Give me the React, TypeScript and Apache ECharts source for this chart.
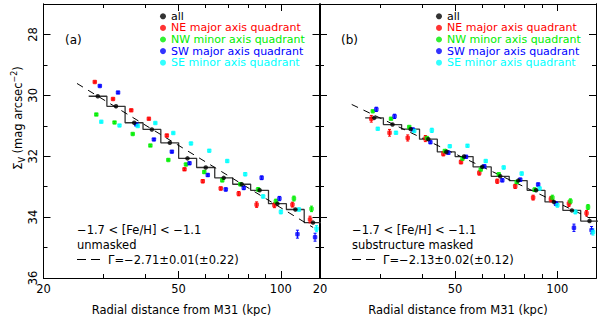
import { useEffect, useRef } from 'react';
import * as echarts from 'echarts';

// ---- data ----
const radii = [28.9, 32.7, 37.0, 41.7, 47.1, 53.1, 60.1, 67.9, 76.7, 86.6, 97.7, 110.4, 124.4];

const allA = [30.03, 30.36, 30.90, 31.12, 31.56, 32.07, 32.37, 32.71, 32.92, 33.12, 33.56, 33.75, 34.18];
const neA = [29.56, 30.12, 30.49, 30.77, 31.32, 32.43, 32.82, 33.06, 33.23, 33.59, 33.61, 33.59, 34.08];
const nwA = [30.63, 30.89, 31.27, 31.65, 32.12, 32.27, 32.52, 32.79, 32.92, 33.09, 33.48, 33.39, 33.73];
const swA = [29.69, 29.91, 30.96, 31.45, 31.85, 32.23, 32.62, 33.09, 33.04, 32.71, 33.39, 34.56, 34.66];
const seA = [30.87, 30.99, 31.01, 30.91, 31.24, 31.58, 31.82, 32.16, 32.59, 33.32, 33.83, 33.75, 34.38];
const neErrA = [0.03, 0.03, 0.03, 0.03, 0.04, 0.04, 0.05, 0.05, 0.07, 0.09, 0.08, 0.08, 0.11];
const nwErrA = [0.03, 0.03, 0.03, 0.03, 0.03, 0.04, 0.04, 0.05, 0.05, 0.06, 0.07, 0.08, 0.09];
const swErrA = [0.03, 0.03, 0.03, 0.03, 0.03, 0.04, 0.04, 0.05, 0.05, 0.06, 0.07, 0.13, 0.13];
const seErrA = [0.03, 0.03, 0.03, 0.03, 0.03, 0.04, 0.04, 0.04, 0.05, 0.05, 0.06, 0.05, 0.10];

const allB = [30.74, 30.96, 31.11, 31.44, 31.86, 32.01, 32.35, 32.66, 32.80, 33.12, 33.50, 33.78, 34.13];
const neB = [30.77, 31.23, 31.40, 31.42, 31.92, 32.19, 32.55, 32.82, 32.99, 33.36, 33.41, 33.56, 33.87];
const nwB = [30.52, 30.77, 31.04, 31.40, 31.83, 32.08, 32.44, 32.59, 32.85, 33.10, 33.36, 33.48, 33.67];
const swB = [30.46, 30.69, 31.12, 31.54, 31.89, 32.02, 32.33, 32.79, 32.77, 32.93, 33.56, 34.35, 34.43];
const seB = [31.10, 31.23, 31.17, 31.15, 31.67, 31.66, 32.16, 32.37, 32.57, 33.06, 33.61, 33.83, 34.49];
const neErrB = [0.11, 0.11, 0.10, 0.10, 0.07, 0.06, 0.07, 0.07, 0.07, 0.08, 0.09, 0.09, 0.09];
const nwErrB = [0.03, 0.03, 0.03, 0.03, 0.04, 0.04, 0.04, 0.04, 0.05, 0.06, 0.08, 0.08, 0.08];
const swErrB = [0.07, 0.07, 0.04, 0.04, 0.04, 0.04, 0.04, 0.05, 0.05, 0.05, 0.06, 0.12, 0.12];
const seErrB = [0.04, 0.04, 0.04, 0.07, 0.04, 0.04, 0.04, 0.05, 0.05, 0.05, 0.06, 0.06, 0.10];

// power-law fits: [radius, mag] end points
const fitA = [[25.1, 29.61], [124.5, 34.34]];
const fitB = [[24.8, 30.30], [124.5, 34.03]];

const xMajorTicks = [20, 50, 100];
const xMinorTicks = [30, 40, 60, 70, 80, 90];
const yMajorTicks = [28, 30, 32, 34, 36];
const yMinorTicks = [27, 29, 31, 33, 35];

const quadNames = ['NE major axis quadrant', 'NW minor axis quadrant', 'SW major axis quadrant', 'SE minor axis quadrant'];
const allName = 'all';

// ---- styles ----
const FONT = '"DejaVu Sans", sans-serif';
const quadColors = ['#ff0000', '#00ee00', '#0000ff', '#00ffff'];
const dodge = [0.98, 0.99, 1.014, 1.024];

function stepData(ys: number[]) {
  const out: number[][] = [];
  const n = radii.length;
  for (let i = 0; i < n; i++) {
    const lo = i === 0 ? radii[0] * Math.sqrt(radii[0] / radii[1]) : Math.sqrt(radii[i - 1] * radii[i]);
    const hi = i === n - 1 ? radii[i] * Math.sqrt(radii[i] / radii[i - 1]) : Math.sqrt(radii[i] * radii[i + 1]);
    out.push([lo, ys[i]], [hi, ys[i]]);
  }
  return out;
}

function errSeries(g: number, name: string, color: string, xs: number[], ys: number[], es: number[]) {
  return {
    type: 'custom',
    name: name + ' err',
    xAxisIndex: g * 4,
    yAxisIndex: g * 4,
    z: 3,
    encode: { x: 0, y: 1 },
    data: xs.map((x, i) => [x, ys[i], es[i]]),
    renderItem: (_p: any, api: any) => {
      const x = api.value(0), y = api.value(1), e = api.value(2);
      const a = api.coord([x, y - e]);
      const b = api.coord([x, y + e]);
      const c = 1.5;
      const st = { stroke: color, lineWidth: 1 };
      return {
        type: 'group',
        children: [
          { type: 'line', shape: { x1: a[0], y1: a[1], x2: b[0], y2: b[1] }, style: st },
          { type: 'line', shape: { x1: a[0] - c, y1: a[1], x2: a[0] + c, y2: a[1] }, style: st },
          { type: 'line', shape: { x1: b[0] - c, y1: b[1], x2: b[0] + c, y2: b[1] }, style: st },
        ],
      };
    },
  };
}

function panelSeries(g: number, all: number[], quads: number[][], errs: number[][], fit: number[][]) {
  const xi = g * 4;
  const s: any[] = [];
  s.push({
    type: 'line', name: 'step' + g, xAxisIndex: xi, yAxisIndex: xi, data: stepData(all),
    showSymbol: false, symbol: 'none', z: 2, clip: true,
    lineStyle: { color: '#333', width: 1.3 },
  });
  s.push({
    type: 'line', name: 'fit' + g, xAxisIndex: xi, yAxisIndex: xi, data: fit,
    showSymbol: false, symbol: 'none', z: 2,
    lineStyle: { color: '#000', width: 1, type: [7, 6] },
  });
  quads.forEach((ys, q) => {
    const xs = radii.map((r) => r * dodge[q]);
    s.push(errSeries(g, quadNames[q], quadColors[q], xs, ys, errs[q]));
    s.push({
      type: 'scatter', name: quadNames[q], xAxisIndex: xi, yAxisIndex: xi, z: 4,
      symbol: 'roundRect', symbolSize: 4.5,
      itemStyle: { color: quadColors[q] },
      data: xs.map((x, i) => [x, ys[i]]),
    });
  });
  s.push({
    type: 'scatter', name: allName, xAxisIndex: xi, yAxisIndex: xi, z: 5,
    symbol: 'circle', symbolSize: 4.5, itemStyle: { color: '#000' },
    data: radii.map((r, i) => [r, all[i]]),
  });
  return s;
}

function axesFor(g: number) {
  const line = { show: true, onZero: false, lineStyle: { color: '#000', width: 1 } };
  const tick = (vals: number[], len: number) => ({ show: true, inside: true, length: len, customValues: vals, lineStyle: { color: '#000', width: 1 } });
  const xBase = { type: 'log', logBase: 10, gridIndex: g, min: 20, max: 130, splitLine: { show: false }, axisLine: line };
  const xAxes = [
    {
      ...xBase, position: 'bottom', axisTick: tick(xMajorTicks, 7),
      axisLabel: { show: true, customValues: xMajorTicks, color: '#000', fontSize: 11.5, fontFamily: FONT, margin: 5 },
      name: 'Radial distance from M31 (kpc)', nameLocation: 'middle', nameGap: 26,
      nameTextStyle: { color: '#000', fontSize: 11.5, fontFamily: FONT },
    },
    { ...xBase, position: 'bottom', axisTick: tick(xMinorTicks, 4), axisLabel: { show: false } },
    { ...xBase, position: 'top', axisTick: tick(xMajorTicks, 7), axisLabel: { show: false } },
    { ...xBase, position: 'top', axisTick: tick(xMinorTicks, 4), axisLabel: { show: false } },
  ];
  const yBase = { type: 'value', gridIndex: g, min: 27, max: 36, inverse: true, splitLine: { show: false }, axisLine: line };
  const yAxes = [
    {
      ...yBase, position: 'left', axisTick: tick(yMajorTicks, 7),
      axisLabel: g === 0
        ? { show: true, customValues: yMajorTicks, rotate: 90, color: '#000', fontSize: 11.5, fontFamily: FONT, margin: 5 }
        : { show: false },
    },
    { ...yBase, position: 'left', axisTick: tick(yMinorTicks, 4), axisLabel: { show: false } },
    { ...yBase, position: 'right', axisTick: tick(yMajorTicks, 7), axisLabel: { show: false } },
    { ...yBase, position: 'right', axisTick: tick(yMinorTicks, 4), axisLabel: { show: false } },
  ];
  return { xAxes, yAxes };
}

function legendFor(left: number) {
  return {
    orient: 'vertical', left, top: 10.5, padding: 0, itemWidth: 6, itemHeight: 6, itemGap: 0, itemTextGap: 13,
    icon: 'circle', selectedMode: false,
    textStyle: { fontSize: 11, fontFamily: FONT, lineHeight: 11.6 },
    data: [
      { name: allName, textStyle: { color: '#000' } },
      ...quadNames.map((n, i) => ({ name: n, textStyle: { color: quadColors[i] } })),
    ],
  };
}

function annot(left: number, l1: string, l2: string, l3: string) {
  const ts = (text: string, x: number, y: number) => ({
    type: 'text', x, y,
    style: { text, fill: '#000', font: `11.5px ${FONT}`, align: 'left', verticalAlign: 'middle' },
  });
  const dash = (x1: number) => ({
    type: 'line', shape: { x1, y1: 259.5, x2: x1 + 9, y2: 259.5 }, style: { stroke: '#000', lineWidth: 1 },
  });
  return [ts(l1, left, 230), ts(l2, left, 244.5), dash(left), dash(left + 14), ts(l3, left + 31, 259.5)];
}

function buildOption() {
  const a = axesFor(0);
  const b = axesFor(1);
  return {
    animation: false,
    backgroundColor: '#fff',
    grid: [
      { left: 43.5, top: 4, width: 276, height: 274, outerBoundsMode: 'none', containLabel: false },
      { left: 320, top: 4, width: 276, height: 274, outerBoundsMode: 'none', containLabel: false },
    ],
    xAxis: [...a.xAxes, ...b.xAxes],
    yAxis: [...a.yAxes, ...b.yAxes],
    legend: [legendFor(160), legendFor(436)],
    series: [
      ...panelSeries(0, allA, [neA, nwA, swA, seA], [neErrA, nwErrA, swErrA, seErrA], fitA),
      ...panelSeries(1, allB, [neB, nwB, swB, seB], [neErrB, nwErrB, swErrB, seErrB], fitB),
    ],
    graphic: [
      {
        type: 'text', x: 18, y: 118, rotation: Math.PI / 2,
        style: {
          text: '{m|Σ}{s|V}{m| (mag arcsec}{p|−2}{m|)}',
          align: 'center', verticalAlign: 'middle',
          rich: {
            m: { fontSize: 11.5, fontFamily: FONT, fill: '#000', lineHeight: 16 },
            s: { fontSize: 8, fontFamily: FONT, fill: '#000', lineHeight: 16, verticalAlign: 'bottom' },
            p: { fontSize: 8, fontFamily: FONT, fill: '#000', lineHeight: 16, verticalAlign: 'top' },
          },
        },
      },
      { type: 'text', x: 65, y: 40, style: { text: '(a)', fill: '#000', font: `12px ${FONT}`, verticalAlign: 'middle' } },
      { type: 'text', x: 341, y: 40, style: { text: '(b)', fill: '#000', font: `12px ${FONT}`, verticalAlign: 'middle' } },
      ...annot(77, '−1.7 < [Fe/H] < −1.1', 'unmasked', 'Γ=−2.71±0.01(±0.22)'),
      ...annot(352, '−1.7 < [Fe/H] < −1.1', 'substructure masked', 'Γ=−2.13±0.02(±0.12)'),
    ],
  };
}

export default function App() {
  const ref = useRef<HTMLDivElement>(null);
  useEffect(() => {
    if (!ref.current) return;
    const chart = echarts.init(ref.current, null, { renderer: 'svg' });
    chart.setOption(buildOption() as any);
    return () => chart.dispose();
  }, []);
  return (
    <div
      ref={ref}
      style={{ position: 'fixed', left: 0, top: 0, width: 598, height: 316, background: '#fff' }}
    />
  );
}
